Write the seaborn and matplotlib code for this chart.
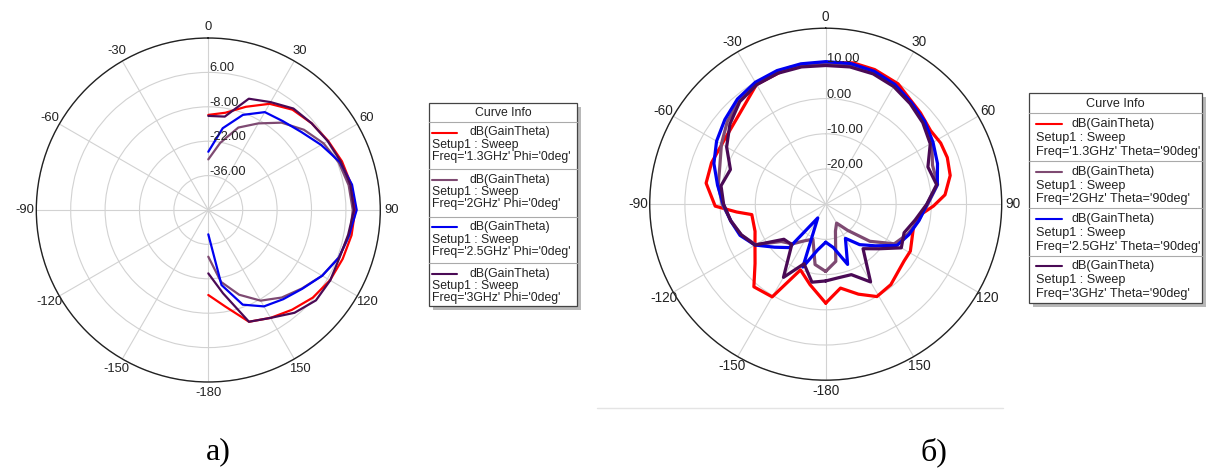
import numpy as np
import matplotlib
matplotlib.use("Agg")
import matplotlib.pyplot as plt
import matplotlib.transforms as mtrans
from matplotlib.patches import Rectangle
from matplotlib.lines import Line2D
import seaborn as sns

sns.set_style("white")
plt.rcParams['font.family'] = ['Liberation Sans', 'DejaVu Sans']

# ---------------- data ----------------
SERIES_COLORS = ['#FF0000', '#7E4A72', '#0000F0', '#4A0A55']

LEFT_FREQS = ["1.3GHz", "2GHz", "2.5GHz", "3GHz"]
LEFT_THETA = [0, 10, 20, 30, 40, 50, 60, 70, 80, 90, 100, 110, 120, 130, 140, 150, 160, 170, 180]
left_1p3 = [-11.3, -9.8, -5.3, -0.1, 3.3, 4.9, 6.3, 7.9, 9.1, 9.8, 9.2, 8.2, 7.2, 5.5, 3.0, 0.7, -1.6, -10.1, -15.4]
left_2p0 = [-29.4, -22.3, -14.3, -9.3, -3.6, 0.8, 4.2, 6.5, 8.0, 8.8, 8.5, 6.5, 3.5, -0.3, -3.5, -7.4, -13.3, -20.3, -31.0]
left_2p5 = [-26.3, -16.2, -8.8, -4.0, -2.8, -0.6, 3.0, 7.0, 9.4, 10.4, 8.2, 6.6, 3.5, -0.1, -2.6, -4.7, -9.0, -19.0, -40.1]
left_3p0 = [-11.7, -11.4, -1.8, 0.7, 3.9, 4.9, 6.1, 7.4, 8.7, 9.3, 7.8, 6.8, 7.3, 7.2, 4.6, 0.7, -1.6, -15.6, -24.2]
LEFT_RTICKS = [-36, -22, -8, 6, 20]
LEFT_RLABELS = ["-36.00", "-22.00", "-8.00", "6.00"]

RIGHT_FREQS = ["1.3GHz", "2GHz", "2.5GHz", "3GHz"]
RIGHT_THETA = [-180, -170, -160, -150, -140, -130, -120, -110, -100, -90, -80, -70, -60, -50, -40, -30, -20, -10,
               0, 10, 20, 30, 40, 50, 60, 70, 80, 90, 100, 110, 120, 130, 140, 150, 160, 170, 180]
right_1p3_theta = [-180, -169, -159, -150, -139, -130, -120, -111, -98, -95, -91, -80, -70, -58, -43, -30, -15,
                   0, 11, 20, 31, 46, 55, 62, 69, 77, 85.5, 91, 96.5, 105, 119, 126, 141, 151, 160, 170, 180]
right_1p3 = [-1.9, -6.7, -10.0, 0.4, 1.1, -3.8, -6.8, -8.5, -8.8, -4.6, 1.4, 4.5, 4.5, 4.1, 5.6, 9.3, 10.2,
             10.2, 10.9, 10.7, 9.9, 7.4, 6.4, 7.0, 7.0, 6.3, 4.0, 0.6, -3.0, -4.2, -2.5, -2.5, -0.6, 0.0, -2.8, -5.8, -1.9]
right_2p0 = [-10.9, -12.6, -19.4, -18.0, -15.3, -13.5, -7.0, -4.5, -2.7, -0.6, 1.0, 2.0, 4.2, 6.5, 8.3, 9.3, 9.8, 10.0,
             10.0, 10.1, 9.8, 9.0, 7.6, 6.3, 4.8, 2.3, 2.3, -1.0, -3.2, -5.2, -7.5, -13.6, -20.3, -23.8, -21.9, -13.5, -10.9]
right_2p5 = [-19.2, -16.8, -11.0, -25.5, -13.9, -11.0, -6.8, -4.1, -2.6, -0.9, 1.2, 3.8, 5.8, 7.4, 9.0, 10.0, 10.4, 10.5,
             10.5, 10.6, 10.2, 9.3, 7.8, 6.7, 5.2, 3.8, 2.2, -1.2, -3.1, -4.8, -6.6, -11.6, -15.0, -18.8, -11.8, -17.5, -19.2]
right_3p0 = [-8.2, -7.5, -12.0, -6.0, -15.0, -14.5, -6.8, -4.5, -2.6, -1.0, 0.2, -1.2, 2.5, 5.5, 8.0, 9.2, 9.6, 9.6,
             9.4, 9.6, 9.4, 8.6, 7.3, 6.0, 4.3, 0.9, 2.0, -1.3, -4.2, -6.3, -5.2, -10.3, -13.5, -4.5, -8.7, -8.8, -8.2]
RIGHT_RTICKS = [-20, -10, 0, 10, 20]
RIGHT_RLABELS = ["-20.00", "-10.00", "0.00", "10.00"]

THETA_TICKS = [0, 30, 60, 90, 120, 150, 180, 210, 240, 270, 300, 330]
THETA_LABELS = ["0", "30", "60", "90", "120", "150", "-180", "-150", "-120", "-90", "-60", "-30"]

# ---------------- figure ----------------
W, H = 1211, 474
fig = plt.figure(figsize=(W / 100, H / 100), dpi=100)
fig.patch.set_facecolor('white')


def rect_from_center(cx, cy, R):
    return [(cx - R) / W, (H - cy - R) / H, 2 * R / W, 2 * R / H]


def style_polar(ax, rmin, rmax, rticks, rlabels, lblsize, ticksize):
    ax.set_theta_zero_location('N')
    ax.set_theta_direction(-1)
    ax.set_ylim(rmin, rmax)
    ax.set_yticks(rticks)
    ax.set_yticklabels([])
    ax.set_xticks(np.radians(THETA_TICKS))
    ax.set_xticklabels(THETA_LABELS, fontsize=ticksize, color='#222222')
    ax.set_xticks(np.radians(np.arange(0, 360, 5)), minor=True)
    ax.tick_params(axis='x', which='major', direction='in', length=5, width=0.9, color='#222222', pad=1.0)
    ax.tick_params(axis='x', which='minor', direction='in', length=3.5, width=0.8, color='#222222')
    ax.tick_params(axis='y', length=0)
    ax.grid(True, color='#d2d2d2', lw=0.8)
    ax.spines['polar'].set_color('#222222')
    ax.spines['polar'].set_linewidth(1.0)
    ax.set_xlabel('')
    ax.set_ylabel('')
    tr = mtrans.offset_copy(ax.transData, fig=fig, x=1, y=4, units='dots')
    for v, s in zip(rticks[:-1], rlabels):
        ax.text(0, v, s, transform=tr, ha='left', va='center', fontsize=lblsize, color='#222222', zorder=5)


# left chart
axL = fig.add_axes(rect_from_center(208.3, 210, 172), projection='polar')
left_vals = [left_1p3, left_2p0, left_2p5, left_3p0]
for vals, c in zip(left_vals, SERIES_COLORS):
    sns.lineplot(x=np.radians(LEFT_THETA), y=vals, ax=axL, color=c, lw=1.6, sort=False, estimator=None)
style_polar(axL, -50, 20, LEFT_RTICKS, LEFT_RLABELS, 9.3, 9.4)

# right chart
axR = fig.add_axes(rect_from_center(825.7, 204.2, 176), projection='polar')
right_thetas = [right_1p3_theta, RIGHT_THETA, RIGHT_THETA, RIGHT_THETA]
right_vals = [right_1p3, right_2p0, right_2p5, right_3p0]
for th, vals, c in zip(right_thetas, right_vals, SERIES_COLORS):
    sns.lineplot(x=np.radians(th), y=vals, ax=axR, color=c, lw=2.3, sort=False, estimator=None)
style_polar(axR, -30, 20, RIGHT_RTICKS, RIGHT_RLABELS, 9.3, 9.8)


# ---------------- legends ("Curve Info" boxes) ----------------
def fx(x):
    return x / W


def fy(y):
    return 1 - y / H


def curve_info(x0, y0, x1, y1, title_y, seps, offs, text_x, line_x0, line_x1, name_x, labels, fs):
    fig.add_artist(Rectangle((fx(x0 + 4), fy(y1 + 4)), fx(x1 - x0), (y1 - y0) / H,
                             transform=fig.transFigure, facecolor='#b8b8b8', edgecolor='none', zorder=1))
    fig.add_artist(Rectangle((fx(x0), fy(y1)), fx(x1 - x0), (y1 - y0) / H,
                             transform=fig.transFigure, facecolor='white', edgecolor='#444444', lw=0.9, zorder=2))
    fig.text(fx((x0 + x1) / 2), fy(title_y), "Curve Info", ha='center', va='center', fontsize=fs,
             color='#222222', zorder=3)
    for s, (lbl, c) in zip(seps, zip(labels, SERIES_COLORS)):
        fig.add_artist(Line2D([fx(x0), fx(x1)], [fy(s), fy(s)], transform=fig.transFigure,
                              color='#aaaaaa', lw=0.8, zorder=3))
        fig.add_artist(Line2D([fx(line_x0), fx(line_x1)], [fy(s + offs[0]), fy(s + offs[0])],
                              transform=fig.transFigure, color=c, lw=1.5, zorder=3))
        fig.text(fx(name_x), fy(s + offs[0]), "dB(GainTheta)", ha='left', va='center', fontsize=fs,
                 color='#222222', zorder=3)
        fig.text(fx(text_x), fy(s + offs[1]), "Setup1 : Sweep", ha='left', va='center', fontsize=fs,
                 color='#222222', zorder=3)
        fig.text(fx(text_x), fy(s + offs[2]), lbl, ha='left', va='center', fontsize=fs,
                 color='#222222', zorder=3)


left_labels = ["Freq='%s' Phi='0deg'" % f for f in LEFT_FREQS]
curve_info(429, 103, 577, 306, 113, [121.7, 169.0, 216.7, 263.3], (10.8, 23.0, 35.2),
           431.5, 432, 457, 470, left_labels, 8.8)

right_labels = ["Freq='%s' Theta='90deg'" % f for f in RIGHT_FREQS]
curve_info(1029, 92.7, 1202.3, 303.3, 104, [113.3, 161.0, 208.3, 255.6], (10.8, 24.6, 38.4),
           1035.5, 1036, 1062, 1072, right_labels, 9.1)

# faint screenshot border under right chart
fig.add_artist(Line2D([fx(597), fx(1003)], [fy(408), fy(408)], transform=fig.transFigure,
                      color='#e4e4e4', lw=1.0))

# panel captions
serif = ['Liberation Serif', 'DejaVu Serif']
fig.text(fx(218), fy(452), "а)", ha='center', va='center', fontsize=23, family=serif, color='black')
fig.text(fx(934), fy(452), "б)", ha='center', va='center', fontsize=23, family=serif, color='black')

fig.savefig("out.png", dpi=100, facecolor='white')
